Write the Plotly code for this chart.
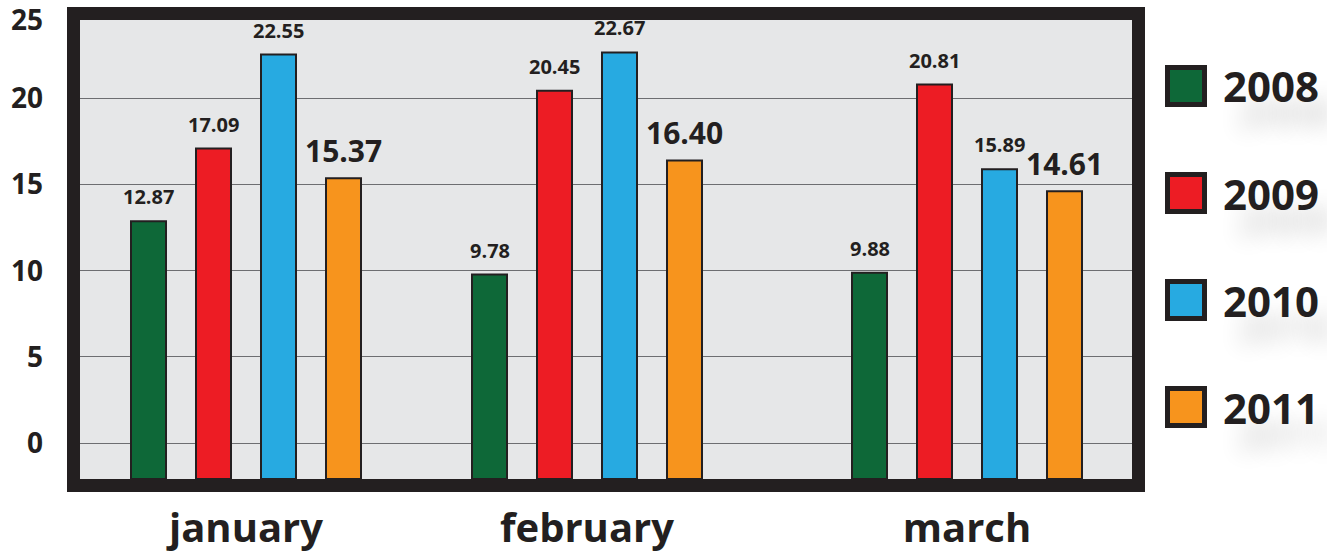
import plotly.graph_objects as go

# ---------------- data ----------------
months = ["january", "february", "march"]
series_names = ["2008", "2009", "2010", "2011"]
v2008 = [12.87, 9.78, 9.88]
v2009 = [17.09, 20.45, 20.81]
v2010 = [22.55, 22.67, 15.89]
v2011 = [15.37, 16.40, 14.61]
y_tick_vals = [0, 5, 10, 15, 20]
y_top_tick = [25]

# ---------------- layout constants ----------------
W, H = 1327, 556
PL, PR, PT, PB = 80, 1132, 12, 479          # plot area in pixels
PW, PH = PR - PL, PB - PT
Y_MIN, Y_MAX = -2.09, 25.02
GROUP_CENTERS = [166, 507, 887]             # x-axis units (pixels from plot left)
SERIES_OFFSETS = [-97.5, -32.5, 32.5, 97.5]
BAR_W = 35
COLORS = ["#0e6838", "#ed1c24", "#27aae1", "#f7941d"]
LABEL_SIZES = [20, 20, 20, 30]
LABEL_SHIFT = [9, 9, 9, 5]
INK = "#231f20"
FONT = "Open Sans"

values = [v2008, v2009, v2010, v2011]

fig = go.Figure()
for i, (name, vals) in enumerate(zip(series_names, values)):
    xs = [c + SERIES_OFFSETS[i] for c in GROUP_CENTERS]
    fig.add_trace(go.Bar(
        x=xs, y=[v - Y_MIN for v in vals], base=[Y_MIN] * len(vals),
        width=BAR_W, name=name,
        marker=dict(color=COLORS[i], line=dict(color=INK, width=2)),
        showlegend=False, hoverinfo="skip",
    ))
    for x, v in zip(xs, vals):
        fig.add_annotation(
            x=x, y=v, xref="x", yref="y", text=f"{v:.2f}", showarrow=False,
            yanchor="bottom", xanchor="center", yshift=LABEL_SHIFT[i],
            font=dict(family=FONT, size=LABEL_SIZES[i], color=INK, weight=700),
        )

# helper trace so the overlaying axis (carrying the top tick label) is drawn
fig.add_trace(go.Scatter(x=[], y=[], yaxis="y2", showlegend=False, hoverinfo="skip"))

def px_x(p):
    return (p - PL) / PW

def px_y(p):
    return (PB - p) / PH

# frame
fig.add_shape(type="rect", xref="paper", yref="paper",
              x0=px_x(PL - 6.5), x1=px_x(PR + 6.5),
              y0=px_y(PB + 6.5), y1=px_y(20 - 6.5),
              line=dict(color=INK, width=13), fillcolor="rgba(0,0,0,0)", layer="above")

# custom legend
LEG_ROWS = [86, 193, 300, 407]
for i, name in enumerate(series_names):
    cy = LEG_ROWS[i]
    fig.add_shape(type="rect", xref="paper", yref="paper",
                  x0=px_x(1167.5), x1=px_x(1204.5),
                  y0=px_y(cy + 18.5), y1=px_y(cy - 18.5),
                  line=dict(color=INK, width=5), fillcolor=COLORS[i])
    fig.add_annotation(x=px_x(1221), y=px_y(cy), xref="paper", yref="paper",
                       text=name, showarrow=False, xanchor="left", yanchor="middle",
                       font=dict(family=FONT, size=42, color=INK, weight=700,
                                 shadow="14px 26px 22px rgba(0,0,0,0.16)"))

tick_font = dict(family=FONT, size=28, color=INK, weight=700)
fig.update_layout(
    width=W, height=H,
    margin=dict(l=PL, r=W - PR, t=PT, b=H - PB, pad=0, autoexpand=False),
    paper_bgcolor="white", plot_bgcolor="#e6e7e8",
    barmode="overlay",
    xaxis=dict(range=[0, PW], tickvals=GROUP_CENTERS, ticktext=months,
               showgrid=False, zeroline=False, showline=False, ticks="",
               automargin=False, ticklabelstandoff=22,
               tickfont=dict(family=FONT, size=40, color=INK, weight=700)),
    yaxis=dict(range=[Y_MIN, Y_MAX], tickvals=y_tick_vals,
               showgrid=True, gridcolor="#6d6e71", gridwidth=1.2,
               zeroline=False, showline=False, ticks="",
               automargin=False, ticklabelstandoff=36,
               tickfont=tick_font),
    yaxis2=dict(range=[Y_MIN, Y_MAX], tickvals=y_top_tick, overlaying="y",
                side="left", anchor="x",
                showgrid=False, zeroline=False, showline=False, ticks="",
                automargin=False, ticklabelstandoff=36, ticklabelshift=8,
                ticklabeloverflow="allow", tickfont=tick_font),
)

fig.write_html("out.html")
